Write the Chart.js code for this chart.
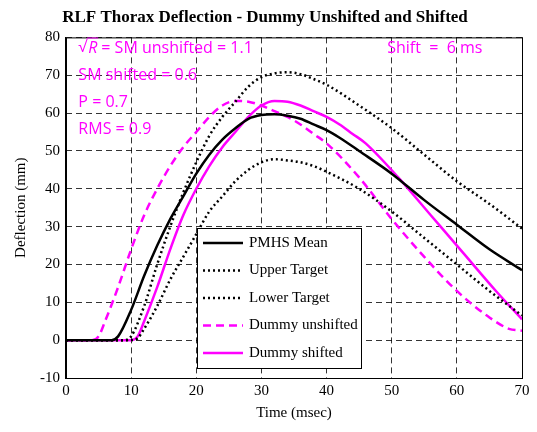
<!DOCTYPE html>
<html>
<head>
<meta charset="utf-8">
<script src="https://cdn.jsdelivr.net/npm/chart.js@4"></script>
<style>
  body { margin: 0; background: #fff; }
  #wrap { width: 537px; height: 432px; }
</style>
</head>
<body>
<div id="wrap"><canvas id="thorax"></canvas></div>
<script>
const pmhsMean = [[0,0],[5,0],[7,0],[8,1],[10,8],[12,17],[14,25],[16,32],[18,38],[20,44],[22,49],[24,53],[26,56],[28,58.5],[30,59.5],[32,59.7],[34,59.3],[36,58.5],[38,57],[40,55.5],[42,53.5],[45,50],[50,44],[55,37],[60,30.5],[65,24],[70,18.5]];
const upperTarget = [[0,0],[9,0],[10,1],[12,9],[14,20],[16,30],[18,39],[20,47],[22,54],[24,59],[26,63],[28,67],[30,69.5],[32,70.5],[34,70.8],[36,70.3],[38,69],[40,67.5],[45,62],[50,56],[55,49],[60,42],[65,36],[70,29.5]];
const lowerTarget = [[0,0],[10,0],[11,0.5],[12,3],[14,9],[16,16],[18,22],[20,28],[22,34],[24,38],[26,42],[28,45],[30,47],[32,47.8],[34,47.5],[36,47],[38,46],[40,44.5],[45,40],[50,34],[55,27],[60,20],[65,13],[70,6.5]];
const dummyUnshifted = [[0,0],[4,0],[5,1],[6,5],[8,14],[10,24],[12,33],[14,40],[16,46],[18,51],[20,55],[22,59],[24,62],[26,63.2],[28,63],[30,62],[32,60.5],[34,59],[36,57],[38,54.5],[40,52],[45,43],[50,32],[55,22],[60,13],[65,6],[68,3],[70,2.5]];
const dummyShifted = [[0,0],[10,0],[11,1],[12,5],[14,14],[16,24],[18,33],[20,40],[22,46],[24,51],[26,55],[28,59],[30,62],[32,63.2],[34,63],[36,62],[38,60.5],[40,59],[42,57],[44,54.5],[46,52],[51,43],[56,33],[61,23],[66,13],[70,5.5]];
const labels = ["PMHS Mean","Upper Target","Lower Target","Dummy unshifted","Dummy shifted"];
const annotations = ["SM shifted = 0.6","P = 0.7","RMS = 0.9"];

const pts = a => a.map(p => ({x: p[0], y: p[1]}));
const magenta = "#ff00ff";
const serif = "'Liberation Serif', 'Times New Roman', serif";
const sans = "'Open Sans', 'Noto Sans', sans-serif";

const overlay = {
  id: "overlay",
  afterDraw(chart) {
    const c = chart.ctx, xs = chart.scales.x, ys = chart.scales.y, a = chart.chartArea;
    c.save();
    c.strokeStyle = "#000"; c.lineWidth = 1;
    c.strokeRect(a.left + 0.5, a.top + 0.5, a.right - a.left, a.bottom - a.top);
    c.font = "16px " + sans;
    c.fillStyle = magenta; c.strokeStyle = magenta;
    c.textBaseline = "middle";
    let x0 = xs.getPixelForValue(1.9);
    c.fillText("\u221A", x0, 47);
    const rx = x0 + c.measureText("\u221A").width;
    c.beginPath(); c.moveTo(rx, 38); c.lineTo(rx + 11, 38); c.stroke();
    c.font = "italic 16px " + sans;
    c.fillText("R", rx + 1, 48);
    c.font = "16px " + sans;
    c.fillText(" = SM unshifted = 1.1", rx + 10, 48);
    annotations.forEach((t, i) => c.fillText(t, x0, 75 + i * 27));
    c.fillText("Shift  =  6 ms", xs.getPixelForValue(49.3), 48);

    const lx = 197, ly = 228, lw = 164, lh = 140;
    c.fillStyle = "#fff"; c.fillRect(lx, ly, lw, lh);
    c.strokeStyle = "#000"; c.lineWidth = 1; c.strokeRect(lx + 0.5, ly + 0.5, lw, lh);
    c.font = "15px " + serif;
    chart.data.datasets.forEach((ds, i) => {
      const yy = ly + 15 + i * 27.5;
      c.strokeStyle = ds.borderColor; c.lineWidth = ds.borderWidth;
      c.setLineDash(ds.borderDash || []);
      c.beginPath(); c.moveTo(lx + 6, yy); c.lineTo(lx + 46, yy); c.stroke();
      c.setLineDash([]);
      c.fillStyle = "#000"; c.fillText(ds.label, lx + 52, yy);
    });
    c.restore();
  }
};

const mk = (label, data, color, dash, w) => ({
  label, data: pts(data), borderColor: color, borderDash: dash, borderWidth: w,
  pointRadius: 0, cubicInterpolationMode: "monotone", fill: false
});

const tickFont = { family: serif, size: 15 };

new Chart(document.getElementById("thorax"), {
  type: "line",
  data: {
    datasets: [
      mk(labels[0], pmhsMean, "#000", [], 2.5),
      mk(labels[1], upperTarget, "#000", [2, 3], 2.5),
      mk(labels[2], lowerTarget, "#000", [2, 3], 2.5),
      mk(labels[3], dummyUnshifted, magenta, [8, 5], 2.5),
      mk(labels[4], dummyShifted, magenta, [], 2.5)
    ]
  },
  options: {
    responsive: true, maintainAspectRatio: false, animation: false,
    layout: { padding: { top: 0, right: 15, left: 8, bottom: 10 } },
    plugins: {
      legend: { display: false },
      tooltip: { enabled: false },
      title: {
        display: true, text: "RLF Thorax Deflection - Dummy Unshifted and Shifted",
        color: "#000", padding: { top: 7, bottom: 10 },
        font: { family: serif, size: 17, weight: "bold" }
      }
    },
    scales: {
      x: {
        type: "linear", min: 0, max: 70,
        ticks: { stepSize: 10, color: "#000", padding: 4, font: tickFont },
        grid: { color: "#000", lineWidth: 0.8, drawTicks: false },
        border: { color: "#000", width: 1, dash: [6, 4] },
        title: { display: true, text: "Time (msec)", color: "#000", padding: 0, font: tickFont }
      },
      y: {
        min: -10, max: 80,
        ticks: { stepSize: 10, color: "#000", padding: 6, font: tickFont },
        grid: { color: "#000", lineWidth: 0.8, drawTicks: false },
        border: { color: "#000", width: 1, dash: [6, 4] },
        title: { display: true, text: "Deflection (mm)", color: "#000", font: tickFont }
      }
    }
  },
  plugins: [overlay]
});
</script>
</body>
</html>
